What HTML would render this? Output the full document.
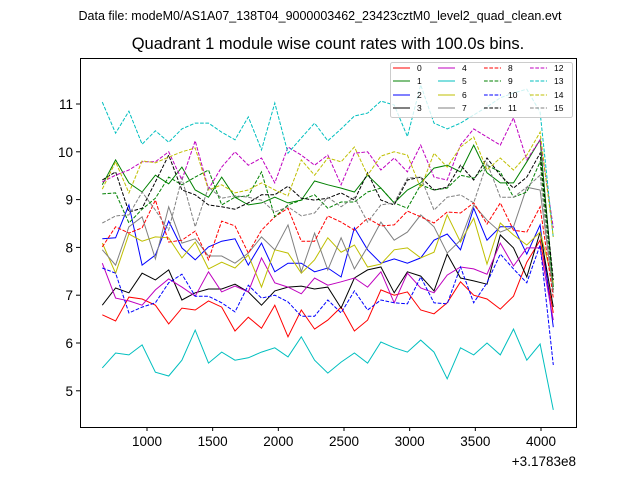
<!DOCTYPE html>
<html><head><meta charset="utf-8"><style>
body{margin:0;background:#fff;}
svg{display:block;font-family:"Liberation Sans","DejaVu Sans",sans-serif;}
</style></head><body>
<svg id="chart" width="640" height="480" viewBox="0 0 640 480">
<text x="320" y="20" text-anchor="middle" font-size="12.5">Data file: modeM0/AS1A07_138T04_9000003462_23423cztM0_level2_quad_clean.evt</text>
<text x="328" y="49" text-anchor="middle" font-size="16.5">Quadrant 1 module wise count rates with 100.0s bins.</text>
<g id="plot"></g>
<rect x="80.5" y="58.5" width="496" height="369" fill="none" stroke="#000" stroke-width="1"/>
<g id="axes"></g>
<text x="576" y="466" text-anchor="end" font-size="13.5">+3.1783e8</text>
<g id="legend"></g>
</svg>
<script>
const colors=["#ff0000","#008000","#0000ff","#000000","#bf00bf","#00bfbf","#bfbf00","#808080"];
const xTicks=[1000,1500,2000,2500,3000,3500,4000];
const yTicks=[5,6,7,8,9,10,11];
const times=[];for(let i=0;i<35;i++)times.push(660+101*i);
const s0=[6.59,6.46,6.96,6.92,6.79,6.40,6.73,6.69,6.88,6.75,6.25,6.54,6.31,6.79,6.13,6.69,6.29,6.48,6.75,6.25,6.48,7.11,7.0,7.07,6.69,6.61,6.84,7.28,7.0,6.92,6.71,6.98,7.69,8.15,6.63];
const s1=[9.31,9.83,9.35,9.16,9.51,9.33,9.68,9.2,9.05,9.47,9.05,8.89,8.93,9.05,8.93,8.99,9.39,9.31,9.24,9.16,9.51,9.24,8.93,9.2,9.35,9.66,9.72,9.58,10.14,9.56,9.35,9.35,9.79,10.25,7.17];
const s2=[8.18,8.2,8.89,7.63,7.84,8.55,7.99,7.74,8.01,8.13,8.18,7.63,8.09,7.49,7.67,7.67,7.49,7.57,7.38,8.41,7.95,7.67,7.76,7.67,7.78,8.15,8.28,7.95,8.82,8.15,8.43,8.43,7.86,8.47,6.33];
const s3=[6.79,7.15,7.05,7.46,7.32,7.53,6.9,7.05,7.13,7.13,7.23,7.07,6.79,7.09,7.17,7.19,7.13,7.17,6.73,7.36,7.53,7.59,7.05,7.49,7.4,7.09,7.86,7.36,7.3,7.23,8.26,7.99,7.38,8.32,6.75];
const s4=[7.67,6.94,6.88,6.79,7.11,7.34,7.17,6.98,7.49,7.07,7.19,7.07,7.78,7.26,7.17,7.03,7.36,7.21,7.28,7.36,7.17,7.49,6.84,7.46,7.15,7.05,7.42,7.59,7.55,7.44,8.09,7.61,7.99,7.99,6.48];
const s5=[5.48,5.79,5.75,5.96,5.39,5.31,5.64,6.27,5.58,5.81,5.64,5.69,5.81,5.90,5.71,6.13,5.64,5.37,5.60,5.79,5.58,6.02,5.90,5.81,6.06,5.81,5.25,5.90,5.75,6.00,5.75,6.29,5.64,5.98,4.60];
const s6=[8.09,7.46,8.28,8.13,8.22,8.2,7.78,8.11,7.55,7.69,7.57,7.84,7.17,7.95,7.88,7.46,7.74,8.2,7.9,8.05,7.59,7.65,7.95,7.99,7.78,7.9,8.68,8.11,8.61,7.65,8.51,8.26,8.05,8.32,7.26];
const s7=[7.95,7.63,8.43,8.64,7.76,8.85,8.09,8.18,7.82,7.82,7.67,7.88,8.22,7.95,8.47,7.49,8.3,7.53,8.2,7.55,8.01,8.53,8.15,8.32,8.68,8.43,7.88,8.15,8.89,8.57,8.32,8.43,9.26,9.2,7.05];
const s8=[8.01,8.43,8.3,8.41,8.99,8.11,8.15,8.34,7.74,8.55,8.45,7.88,8.36,8.64,8.82,8.13,8.13,8.66,8.53,8.36,8.61,8.45,8.47,8.76,8.64,8.51,8.74,8.72,8.93,8.49,8.93,8.36,8.32,8.85,6.94];
const s9=[9.12,9.14,8.51,8.8,9.03,9.47,9.31,9.47,9.62,8.89,9.05,9.08,9.58,8.64,8.89,8.99,9.1,8.82,8.95,8.95,9.16,9.24,8.93,8.82,9.31,9.2,9.24,9.51,9.45,9.72,9.58,9.05,9.16,9.79,7.11];
const s10=[7.57,7.46,6.63,6.75,6.84,7.26,7.44,6.98,6.98,6.84,6.65,7.21,6.94,7.0,6.86,6.56,6.56,6.9,6.63,7.09,6.69,6.9,6.84,6.82,7.38,6.84,6.82,7.59,6.84,7.26,7.86,7.55,7.26,8.05,5.54];
const s11=[9.41,9.58,8.74,8.82,9.37,9.93,9.2,9.1,8.89,8.85,8.8,8.93,9.1,9.1,9.28,9.03,8.99,9.03,9.14,8.99,9.56,8.99,8.89,9.41,9.47,9.2,9.26,9.72,9.41,9.87,9.51,9.24,9.47,9.97,7.32];
const s12=[9.37,9.51,9.62,9.79,9.79,10.0,9.41,10.23,9.22,9.68,10.0,9.72,9.87,9.35,10.1,9.93,9.72,9.93,9.31,9.97,10.0,9.62,9.87,9.58,10.14,9.47,9.41,10.14,10.48,10.31,10.14,10.71,9.83,10.25,8.41];
const s13=[11.04,10.39,10.85,10.16,10.44,10.2,10.48,10.6,10.6,10.41,10.25,10.73,10.04,11.02,9.97,10.29,10.6,10.23,10.48,10.75,10.81,11.06,10.98,10.32,11.4,10.6,10.48,10.6,10.77,10.94,11.13,11.23,11.31,10.83,8.2];
const s14=[9.22,9.79,9.14,9.81,9.77,9.89,10.0,10.08,9.2,9.31,9.14,9.2,9.35,9.2,9.08,9.83,9.51,9.87,9.79,10.1,9.51,9.91,10.0,9.93,9.24,9.97,9.68,10.1,10.31,9.62,9.87,9.62,9.93,10.41,8.22];
const s15=[8.51,8.66,8.68,9.16,8.78,8.36,9.45,8.43,9.26,9.03,9.08,9.05,8.99,8.74,8.85,8.66,8.72,9.05,8.85,9.05,8.53,8.89,8.93,9.45,9.47,8.78,9.05,9.1,8.93,9.77,9.05,9.05,9.26,9.51,7.05];
const seriesList=[s0,s1,s2,s3,s4,s5,s6,s7,s8,s9,s10,s11,s12,s13,s14,s15];
const NS="http://www.w3.org/2000/svg";
function xs(t){return 147+(t-1000)*0.13133;}
function ys(v){return 104+(11-v)*47.8;}
function mk(tag,attrs,parent){const e=document.createElementNS(NS,tag);for(const k in attrs)e.setAttribute(k,attrs[k]);parent.appendChild(e);return e;}
const plot=document.getElementById('plot'),axes=document.getElementById('axes'),leg=document.getElementById('legend');
seriesList.forEach((s,k)=>{
  const pts=s.map((v,i)=>xs(times[i]).toFixed(1)+','+ys(v).toFixed(1)).join(' ');
  const a={points:pts,fill:'none',stroke:colors[k%8],'stroke-width':1};
  if(k>=8)a['stroke-dasharray']='3.7,1.6';
  const p=mk('polyline',a,plot);
  
  
});
xTicks.forEach(t=>{
  const x=xs(t);
  const l=mk('line',{x1:x,x2:x,y1:427,y2:431,stroke:'#000'},axes);
  
  
  const tx=mk('text',{x:x,y:446,'text-anchor':'middle','font-size':13.5},axes);
  tx.textContent=t;
  
  
});
yTicks.forEach(v=>{
  const y=ys(v);
  const l=mk('line',{x1:76,x2:80,y1:y,y2:y,stroke:'#000'},axes);
  
  
  const tx=mk('text',{x:73,y:y+5,'text-anchor':'end','font-size':13.5},axes);
  tx.textContent=v;
  
  
});
const box=mk('rect',{x:390.5,y:62.5,width:182,height:55,rx:2,fill:'#fff','fill-opacity':0.8,stroke:'#ccc'},leg);


const colX=[393,438,484,530],rowY=[68,81,95,108];
for(let k=0;k<16;k++){
  const c=Math.floor(k/4),r=k%4,x=colX[c],y=rowY[r];
  const g=mk('g',{},leg);
  
  
  const a={x1:x,x2:x+17,y1:y,y2:y,stroke:colors[k%8],'stroke-width':1};
  if(k>=8)a['stroke-dasharray']='3.7,1.6';
  mk('line',a,g);
  const t=mk('text',{x:x+24,y:y+3,'font-size':8.5},g);
  t.textContent=k;
}
</script>
</body></html>
